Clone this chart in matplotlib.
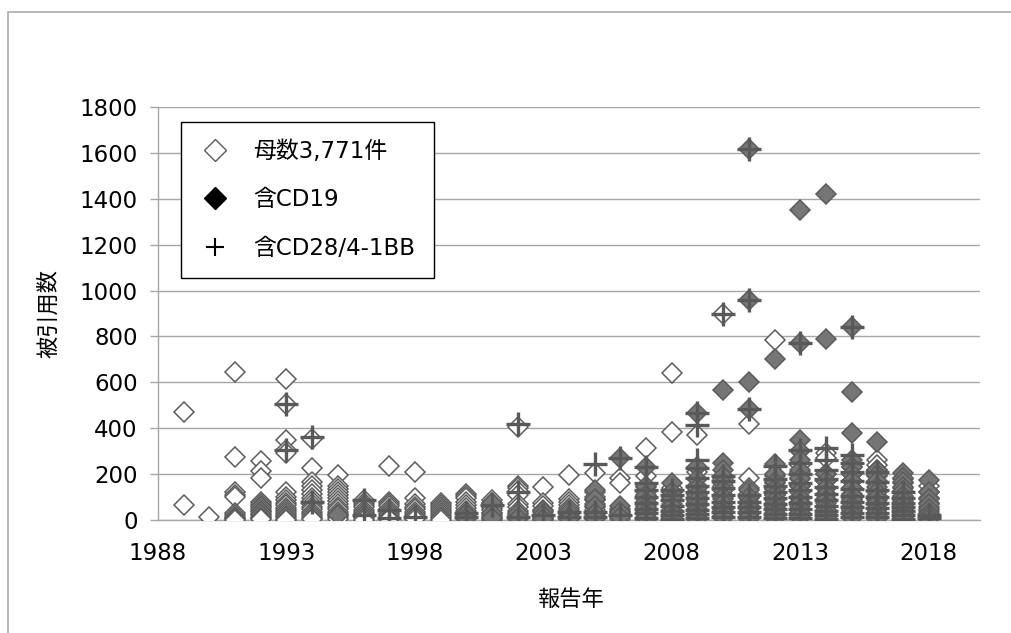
import matplotlib
matplotlib.use("Agg")
import matplotlib.pyplot as plt
from matplotlib.lines import Line2D
from matplotlib.patches import Rectangle

plt.rcParams["font.family"] = ["DejaVu Sans", "Noto Sans CJK JP"]

# citation counts per report year
all_years = list(range(1989, 2019))
all_cites = [
    [470, 65],
    [13],
    [645, 275, 120, 108, 100, 30, 22, 15, 10, 5, 2],
    [255, 215, 185, 80, 70, 62, 55, 48, 40, 33, 26, 20, 14, 8, 3],
    [615, 505, 350, 305, 290, 120, 100, 88, 75, 64, 52, 42, 33, 25, 18, 12, 6, 2],
    [355, 225, 165, 148, 130, 112, 96, 82, 70, 58, 46, 36, 27, 18, 10, 4],
    [195, 150, 135, 120, 108, 95, 82, 70, 58, 47, 37, 28, 20, 12, 5],
    [85, 75, 65, 55, 45, 36, 28, 20, 13, 7, 2],
    [235, 80, 70, 60, 50, 40, 31, 23, 15, 8, 3],
    [210, 95, 70, 58, 46, 36, 27, 18, 11, 5],
    [75, 66, 57, 48, 39, 30, 22, 14, 7, 2],
    [115, 105, 95, 80, 65, 52, 40, 30, 20, 12, 5],
    [85, 75, 64, 52, 42, 32, 22, 14, 7, 2],
    [405, 150, 138, 125, 110, 70, 55, 40, 28, 18, 10, 4],
    [145, 75, 60, 45, 33, 22, 14, 7, 2],
    [195, 90, 78, 66, 54, 42, 32, 22, 14, 6],
    [205, 120, 100, 85, 70, 55, 42, 30, 20, 10, 3],
    [185, 160, 50, 40, 30, 20, 12, 5],
    [315, 190, 145, 120, 105, 90, 75, 60, 48, 36, 25, 15, 7, 2],
    [640, 385, 140, 120, 100, 85, 70, 55, 42, 30, 20, 10, 3],
    [370, 210, 150, 120, 100, 80, 65, 50, 38, 26, 15, 6],
    [900, 180, 150, 130, 110, 90, 72, 56, 42, 30, 18, 8],
    [420, 185, 140, 115, 95, 78, 62, 48, 35, 24, 14, 5],
    [785, 190, 160, 135, 110, 90, 72, 56, 42, 30, 18, 8],
    [240, 210, 180, 150, 125, 100, 80, 62, 46, 32, 20, 8],
    [290, 270, 200, 170, 140, 115, 92, 72, 55, 40, 26, 12],
    [230, 200, 170, 140, 115, 92, 72, 55, 40, 26, 12],
    [260, 240, 220, 190, 160, 130, 105, 85, 65, 48, 32, 18, 6],
    [180, 160, 140, 120, 100, 80, 62, 46, 32, 20, 8],
    [150, 120, 95, 75, 55, 40, 28, 16, 6],
]

cd19_years = [1995, 2000, 2001, 2002, 2003, 2004, 2005, 2006, 2007, 2008,
              2009, 2010, 2011, 2012, 2013, 2014, 2015, 2016, 2017, 2018]
cd19_cites = [
    [20],
    [25, 8],
    [75, 30, 8],
    [30, 10],
    [40, 20, 5],
    [35, 15, 3],
    [130, 90, 60, 30, 10],
    [270, 60, 35, 12],
    [230, 150, 110, 80, 55, 30, 10],
    [160, 120, 90, 60, 35, 15],
    [465, 230, 180, 140, 110, 85, 60, 40, 20, 5],
    [565, 250, 220, 190, 160, 130, 100, 75, 50, 30, 12],
    [1615, 960, 600, 485, 130, 100, 75, 55, 35, 15],
    [700, 245, 200, 165, 135, 110, 85, 62, 42, 24, 8],
    [1350, 770, 350, 300, 260, 220, 185, 150, 120, 95, 72, 50, 30, 12],
    [1420, 790, 200, 170, 140, 110, 85, 62, 42, 24, 8],
    [840, 560, 380, 260, 230, 200, 170, 140, 110, 85, 62, 42, 24, 8],
    [340, 220, 195, 170, 145, 120, 95, 72, 50, 30, 12],
    [205, 185, 165, 145, 125, 105, 85, 65, 45, 28, 12],
    [175, 120, 90, 70, 50, 32, 16, 5],
]

costim_years = [1993, 1994, 1996, 1997, 1998, 2000, 2001, 2002, 2003, 2004,
                2005, 2006, 2007, 2008, 2009, 2010, 2011, 2012, 2013, 2014,
                2015, 2016, 2017, 2018]
costim_cites = [
    [505, 305],
    [360, 80],
    [85, 20],
    [45, 10],
    [12],
    [30, 15],
    [65],
    [420, 120, 15],
    [20],
    [35, 15],
    [245, 35, 15],
    [270, 20],
    [230, 160, 130, 100, 75, 50, 30, 10],
    [130, 110, 85, 60, 40, 20, 5],
    [465, 415, 260, 225, 185, 150, 120, 95, 70, 45, 25, 8],
    [900, 190, 170, 140, 110, 80, 55, 35, 15],
    [1615, 960, 485, 110, 80, 55, 35, 15],
    [235, 180, 150, 120, 95, 70, 48, 28, 10],
    [770, 305, 250, 200, 160, 130, 100, 75, 50, 28, 10],
    [315, 260, 220, 180, 145, 115, 88, 62, 40, 20, 5],
    [840, 285, 250, 210, 170, 135, 105, 78, 55, 32, 12],
    [210, 165, 130, 100, 75, 52, 32, 12],
    [120, 95, 75, 55, 38, 20, 6],
    [20, 8],
]

labels = ["母数3,771件", "含CD19", "含CD28/4-1BB"]


def flatten(years, cites):
    xs, ys = [], []
    for yr, vals in zip(years, cites):
        for v in vals:
            xs.append(yr)
            ys.append(v)
    return xs, ys


fig = plt.figure(figsize=(10.12, 6.33), dpi=100)
ax = fig.add_axes([158 / 1012, 1 - 520 / 633, 822 / 1012, 413 / 633])

grey = "#a6a6a6"
x, y = flatten(all_years, all_cites)
ax.plot(x, y, "D", ms=9.8, mfc="white", mec="#5c5c5c", mew=1.1, zorder=3)
x, y = flatten(cd19_years, cd19_cites)
ax.plot(x, y, "D", ms=9.8, mfc="#767676", mec="#5c5c5c", mew=1.1, zorder=4)
x, y = flatten(costim_years, costim_cites)
ax.plot(x, y, "+", ms=17, mec="#595959", mew=2.4, zorder=5)

ax.set_xlim(1988, 2020)
ax.set_ylim(0, 1800)
ax.set_xticks(range(1988, 2019, 5))
ax.set_yticks(range(0, 1801, 200))
ax.yaxis.grid(True, color=grey, lw=1.0)
ax.set_axisbelow(True)
for s in ["top", "right"]:
    ax.spines[s].set_visible(False)
for s in ["left", "bottom"]:
    ax.spines[s].set_color(grey)
    ax.spines[s].set_linewidth(1.0)
ax.tick_params(axis="y", length=5.5, width=1.0, color=grey, pad=9, labelsize=16.5)
ax.tick_params(axis="x", length=0, pad=16, labelsize=16.5)

fig.text(48 / 1012, 1 - 313 / 633, "被引用数", rotation=90, ha="center", va="center", fontsize=16)
fig.text(570 / 1012, 1 - 600 / 633, "報告年", ha="center", va="center", fontsize=16)

handles = [
    Line2D([], [], ls="none", marker="D", ms=11, mfc="white", mec="#595959", mew=1.0),
    Line2D([], [], ls="none", marker="D", ms=11, mfc="black", mec="black", mew=1.0),
    Line2D([], [], ls="none", marker="+", ms=13, mec="black", mew=1.5),
]
leg = ax.legend(handles, labels, loc="upper left", bbox_to_anchor=(0.028, 0.964),
                borderaxespad=0, fontsize=16.5, frameon=True, fancybox=False,
                edgecolor="black", framealpha=1, borderpad=0.8, labelspacing=1.1,
                handlelength=1.4, handletextpad=0.95)
leg.get_frame().set_linewidth(1.0)
leg.set_zorder(10)

fig.add_artist(Rectangle((8 / 1012, -0.1), 1.2, 1.1 - 12 / 633, transform=fig.transFigure,
                         fill=False, ec=grey, lw=1.1))

fig.savefig("out.png", dpi=100)
